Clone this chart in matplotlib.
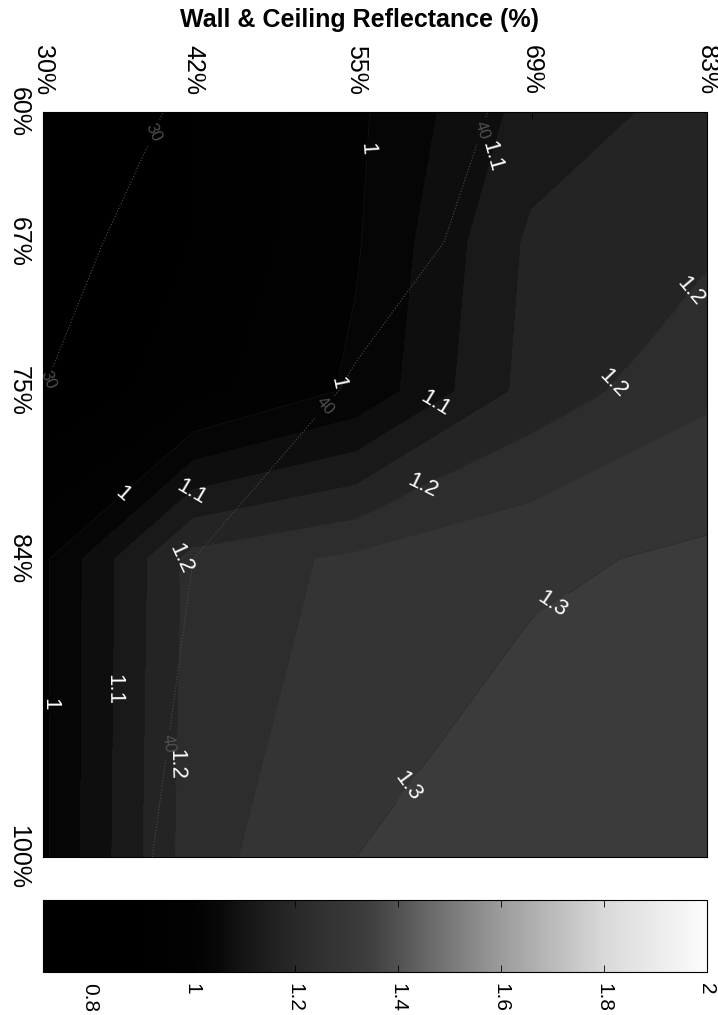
import numpy as np
import matplotlib
matplotlib.use("Agg")
import matplotlib.pyplot as plt
from matplotlib.colors import LinearSegmentedColormap, Normalize
import matplotlib.cm as cm

# ---------------- data ----------------
wall_ceiling = [30, 42, 55, 69, 83]          # horizontal axis (%)
second_refl = [60, 67, 75, 84, 100]          # vertical axis (%)
wall_labels = ["30%", "42%", "55%", "69%", "83%"]
second_labels = ["60%", "67%", "75%", "84%", "100%"]

# main filled field (rows follow second_refl, columns follow wall_ceiling)
ratio = [
    [0.80, 0.90, 0.99, 1.12, 1.17],
    [0.82, 0.90, 0.995, 1.16, 1.19],
    [0.85, 0.93, 1.01, 1.17, 1.24],
    [0.99, 1.22, 1.26, 1.29, 1.31],
    [0.99, 1.23, 1.30, 1.34, 1.35],
]
# faint overlaid field (labels 30 / 40)
overlay = [
    [26, 31, 37, 41, 44],
    [28, 33, 38, 42, 45],
    [30, 36, 40.5, 44, 47],
    [34, 40, 43, 46, 48],
    [36, 41.5, 44, 47, 49],
]
fill_levels = [0.70, 0.75, 0.80, 0.85, 0.90, 0.95, 1.00, 1.05, 1.10,
               1.15, 1.20, 1.25, 1.30, 1.35, 1.40]
label_levels = [1.0, 1.1, 1.2, 1.3]
overlay_levels = [30, 40]
cbar_ticks = [0.8, 1.0, 1.2, 1.4, 1.6, 1.8, 2.0]
cbar_ticklabels = ["0.8", "1", "1.2", "1.4", "1.6", "1.8", "2"]
cmin, cmax = 0.71, 2.0

# ---------------- style ----------------
plt.rcParams["font.family"] = ["Liberation Sans", "DejaVu Sans"]


def pos(v):
    return (v - cmin) / (cmax - cmin)


# dark-weighted grey map (as printed)
gnodes = [(0.0, 0.0), (pos(0.90), 0.0), (pos(1.00), 0.01), (pos(1.05), 0.03),
          (pos(1.10), 0.08), (pos(1.15), 0.12), (pos(1.20), 0.16),
          (pos(1.25), 0.19), (pos(1.30), 0.215), (pos(1.35), 0.25),
          (pos(1.40), 0.32), (pos(1.50), 0.47), (pos(1.60), 0.61),
          (pos(1.80), 0.85), (1.0, 0.99)]
cmap = LinearSegmentedColormap.from_list(
    "printgray", [(p, (g, g, g)) for p, g in gnodes], N=1024)
norm = Normalize(vmin=cmin, vmax=cmax)

W, H = 718, 1015
fig = plt.figure(figsize=(W / 100, H / 100), dpi=100)
fig.patch.set_facecolor("white")

ax = fig.add_axes([43 / W, (H - 857) / H, 664 / W, 745 / H])
X, Y = np.meshgrid(wall_ceiling, second_refl)
Z = np.array(ratio)
cf = ax.contourf(X, Y, Z, levels=fill_levels, cmap=cmap, norm=norm)
cl = ax.contour(X, Y, Z, levels=label_levels, colors="#1a1a1a", linewidths=0.3)

lab_pos = [(56, 62), (54.5, 74.7), (36.1, 80.3), (31, 91.8),
           (67, 62.6), (60.5, 74.7), (41.7, 80.3), (35.2, 91),
           (81.6, 69.6), (75.2, 74.4), (59.3, 78.7), (40.1, 83.8), (38.9, 95),
           (72, 87.8), (58.5, 95.9)]
ax.clabel(cl, levels=label_levels, manual=lab_pos, fmt="%g", colors="white",
          fontsize=16, inline=True, inline_spacing=4)

Wf = np.array(overlay)
co = ax.contour(X, Y, Wf, levels=overlay_levels, colors="#4a4a4a",
                linewidths=0.8, linestyles=":")
ov_pos = [(38.5, 61), (30.8, 74.5), (65, 61), (52, 75.5), (37.7, 93.7)]
ax.clabel(co, levels=overlay_levels, manual=ov_pos, fmt="%g", colors="#4f4f4f",
          fontsize=12, inline=True)

ax.set_xlim(wall_ceiling[0], wall_ceiling[-1])
ax.set_ylim(second_refl[-1], second_refl[0])
ax.xaxis.tick_top()
ax.set_xticks(wall_ceiling)
ax.set_xticklabels(wall_labels, rotation=-90, ha="center", va="bottom")
ax.set_yticks(second_refl)
ax.set_yticklabels(second_labels, rotation=-90, ha="right", va="center")
ax.tick_params(axis="x", direction="in", length=5, width=0.6,
               labelsize=18, pad=12)
ax.tick_params(axis="y", direction="in", length=5, width=0.6,
               labelsize=18, pad=9)
for s in ax.spines.values():
    s.set_linewidth(0.8)

fig.text(0.5, 1 - 20 / H, "Wall & Ceiling Reflectance (%)", ha="center",
         va="center", fontsize=18, fontweight="bold")

# colorbar
cax = fig.add_axes([43 / W, (H - 972) / H, 664 / W, 72 / H])
cb = fig.colorbar(cm.ScalarMappable(norm=norm, cmap=cmap), cax=cax,
                  orientation="horizontal")
cb.set_ticks(cbar_ticks)
cb.set_ticklabels(cbar_ticklabels)
cb.outline.set_linewidth(0.8)
cax.tick_params(axis="x", direction="in", length=5, width=0.6, top=True,
                bottom=True, labelsize=15, pad=8)
for t in cax.get_xticklabels():
    t.set_rotation(-90)
    t.set_ha("center")
    t.set_va("top")

fig.savefig("out.png", dpi=100, facecolor="white")
